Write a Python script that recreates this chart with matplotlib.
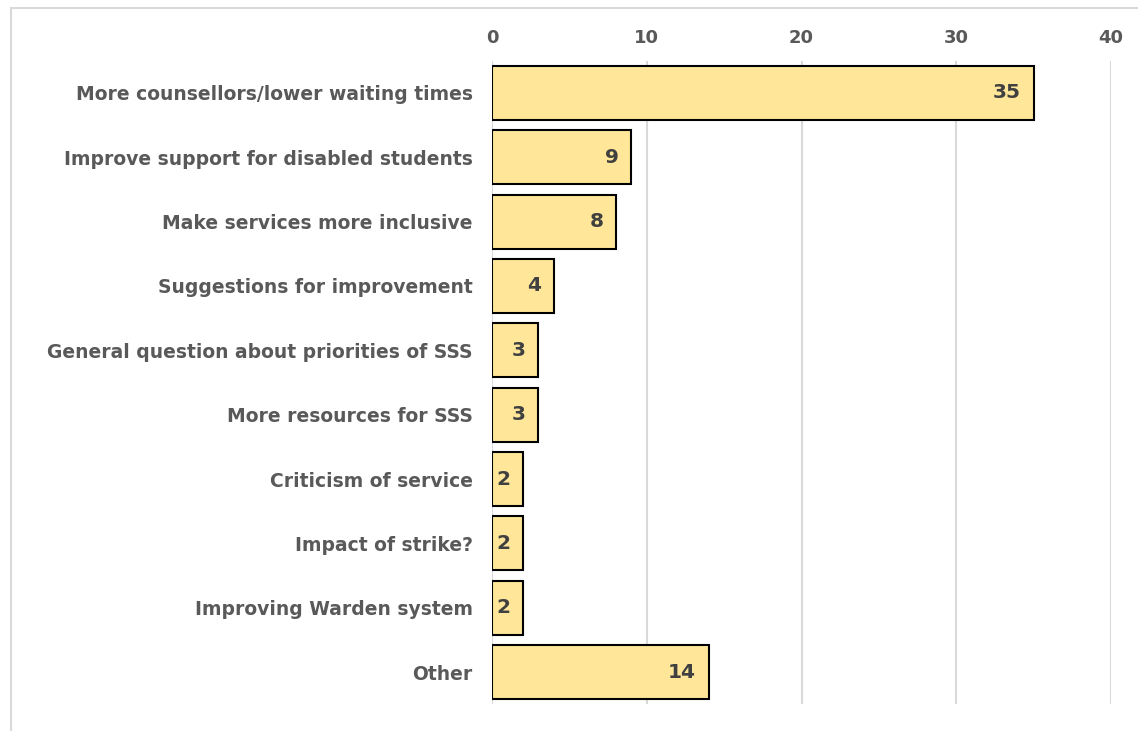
import matplotlib
matplotlib.use("Agg")
import matplotlib.pyplot as plt
from matplotlib.patches import Rectangle

categories = [
    "More counsellors/lower waiting times",
    "Improve support for disabled students",
    "Make services more inclusive",
    "Suggestions for improvement",
    "General question about priorities of SSS",
    "More resources for SSS",
    "Criticism of service",
    "Impact of strike?",
    "Improving Warden system",
    "Other",
]
values = [35, 9, 8, 4, 3, 3, 2, 2, 2, 14]
xticks = [0, 10, 20, 30, 40]

W, H = 1138, 731
fig = plt.figure(figsize=(W / 100, H / 100), dpi=100)
fig.patch.set_facecolor("white")

# outer light-gray frame (cropped at right/bottom)
fig.add_artist(Rectangle((11 / W, -0.05), 1.2, 1 - 8 / H + 0.05,
                         transform=fig.transFigure, fill=False,
                         edgecolor="#d9d9d9", linewidth=1.5))

left = 492 / W
right = 1111 / W
top_px, bot_px = 60.8, 704.2
ax = fig.add_axes([left, 1 - bot_px / H, right - left, (bot_px - top_px) / H])

txt_color = "#595959"
ypos = list(range(len(categories)))
ax.barh(ypos, values, height=0.84, color="#FFE699", edgecolor="black",
        linewidth=1.5, zorder=3)
ax.set_ylim(len(categories) - 0.5, -0.5)
ax.set_xlim(0, 40)
ax.set_yticks(ypos)
ax.set_yticklabels(categories, fontsize=13.5, fontweight="bold", color=txt_color)
ax.set_xticks(xticks)
ax.set_xticklabels([str(t) for t in xticks], fontsize=13, fontweight="bold",
                   color=txt_color)
ax.xaxis.tick_top()
ax.tick_params(axis="both", length=0)
ax.tick_params(axis="x", pad=10)
ax.tick_params(axis="y", pad=14)
ax.grid(axis="x", color="#d9d9d9", linewidth=1.5, zorder=0)
for s in ax.spines.values():
    s.set_visible(False)

for y, v in zip(ypos, values):
    ax.annotate(str(v), xy=(v, y), xytext=(-9, 0), textcoords="offset points",
                ha="right", va="center", fontsize=14.5, fontweight="bold",
                color="#404040", zorder=4)

fig.savefig("out.png", dpi=100)
